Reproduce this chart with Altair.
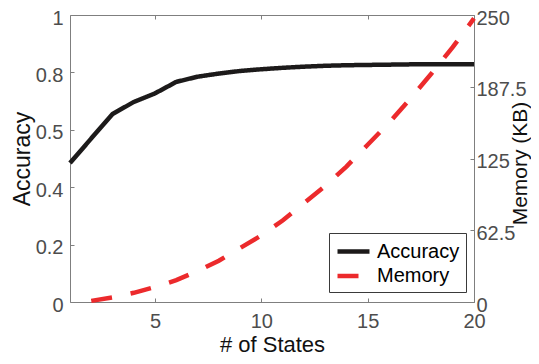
import altair as alt
import pandas as pd

# ---- data ----
states = list(range(1, 21))
accuracy = [0.484, 0.570, 0.655, 0.697, 0.727, 0.767, 0.785, 0.796, 0.805, 0.811,
            0.816, 0.820, 0.823, 0.825, 0.826, 0.827, 0.828, 0.828, 0.828, 0.828]
mem_states = list(range(2, 21))
memory = [1, 4, 8, 13, 19, 27, 36, 47, 58, 71, 86, 101, 118, 137, 156, 177, 199, 222, 247]

series_names = ["Accuracy", "Memory"]
series_colors = ["#1c1a1a", "#ec2a2c"]
series_dashes = [[1, 0], [21, 19]]

x_ticks = [5, 10, 15, 20]
acc_ticks = [0, 0.2, 0.4, 0.6, 0.8, 1]
acc_tick_labels = ["0", "0.2", "0.4", "0.5", "0.8", "1"]
mem_ticks = [0, 62.5, 125, 187.5, 250]
mem_tick_labels = ["0", "62.5", "125", "187.5", "250"]

W, H = 404, 287
TOTAL_W, TOTAL_H = 523, 348
PAD_L, PAD_T = 62, 7
FONT = "Liberation Sans"


def label_expr(vals, labels):
    expr = "datum.label"
    for v, l in reversed(list(zip(vals, labels))):
        expr = f"abs(datum.value - {v}) < 1e-6 ? '{l}' : ({expr})"
    return expr


acc_df = pd.DataFrame({"state": states, "value": accuracy, "series": series_names[0]})
mem_df = pd.DataFrame({"state": mem_states, "value": memory, "series": series_names[1]})

xs = alt.Scale(domain=[1, 20], nice=False, zero=False)
acc_scale = alt.Scale(domain=[0, 1], nice=False, zero=False)
mem_scale = alt.Scale(domain=[0, 250], nice=False, zero=False)

legend = alt.Legend(
    orient="none", legendX=259, legendY=218, direction="vertical",
    strokeColor="#3a3a3a", fillColor="white", padding=6, rowPadding=1.5,
    symbolType="M-1,0H2.2", symbolSize=400, symbolStrokeWidth=4.5,
    labelFontSize=20, labelFont=FONT, labelColor="black", labelOffset=17,
    labelLimit=300,
)
color = alt.Color("series:N", title=None,
                  scale=alt.Scale(domain=series_names, range=series_colors),
                  legend=legend)
dash = alt.StrokeDash("series:N", title=None,
                      scale=alt.Scale(domain=series_names, range=series_dashes),
                      legend=legend)

acc_line = alt.Chart(acc_df).mark_line(strokeWidth=4.5, strokeJoin="round").encode(
    x=alt.X("state:Q", scale=xs, axis=alt.Axis(
        orient="bottom", values=x_ticks, ticks=False, tickSize=0, labelPadding=9,
        title="# of States", titleFontSize=22, titleX=202, titleY=49.5,
        titleBaseline="alphabetic", titleAlign="center")),
    y=alt.Y("value:Q", scale=acc_scale, axis=alt.Axis(
        orient="left", values=acc_ticks, labelExpr=label_expr(acc_ticks, acc_tick_labels),
        ticks=False, tickSize=0, labelPadding=7, labelOffset=3,
        title="Accuracy", titleFontSize=23, titleAngle=270, titleX=-41, titleY=143.5,
        titleBaseline="alphabetic", titleAlign="center")),
    color=color, strokeDash=dash,
)

acc_tick_layer = alt.Chart(acc_df).mark_line(opacity=0).encode(
    x=alt.X("state:Q", scale=xs, axis=alt.Axis(
        orient="top", offset=-H, values=x_ticks, tickSize=4, labels=False,
        domain=False, title=None)),
    y=alt.Y("value:Q", scale=acc_scale, axis=alt.Axis(
        orient="right", offset=-W, values=acc_ticks, tickSize=4, labels=False,
        domain=False, title=None)),
)

mem_line = alt.Chart(mem_df).mark_line(strokeWidth=4.5, strokeCap="butt").encode(
    x=alt.X("state:Q", scale=xs, axis=alt.Axis(
        orient="bottom", offset=-H, values=x_ticks, tickSize=4, labels=False,
        domain=True, title=None)),
    y=alt.Y("value:Q", scale=mem_scale, axis=alt.Axis(
        orient="right", values=mem_ticks, labelExpr=label_expr(mem_ticks, mem_tick_labels),
        ticks=False, tickSize=0, labelPadding=2, labelOffset=3,
        title="Memory (KB)", titleFontSize=21, titleAngle=270, titleX=52, titleY=148,
        titleBaseline="alphabetic", titleAlign="center")),
    color=color, strokeDash=dash,
)

mem_tick_layer = alt.Chart(mem_df).mark_line(opacity=0).encode(
    x=alt.X("state:Q", scale=xs, axis=None),
    y=alt.Y("value:Q", scale=mem_scale, axis=alt.Axis(
        orient="left", offset=-W, values=mem_ticks, tickSize=4, labels=False,
        domain=False, title=None)),
)

chart = alt.layer(acc_line, acc_tick_layer, mem_line, mem_tick_layer).resolve_scale(
    x="independent", y="independent"
).resolve_axis(
    x="independent", y="independent"
).properties(
    width=W, height=H,
    autosize=alt.AutoSizeParams(type="none"),
    padding={"left": PAD_L, "top": PAD_T,
             "right": TOTAL_W - PAD_L - W, "bottom": TOTAL_H - PAD_T - H},
    background="white",
).configure_axis(
    labelFont=FONT, labelFontSize=20, labelColor="#4d4d4d",
    titleFont=FONT, titleColor="#111111", titleFontWeight="normal",
    domainColor="#7f7f7f", tickColor="#7f7f7f", domainWidth=1, tickWidth=1,
    grid=False, labelFlush=False, labelOverlap=False,
).configure_view(strokeWidth=0)

chart.save("out.html", embed_options={"renderer": "svg", "actions": False})
